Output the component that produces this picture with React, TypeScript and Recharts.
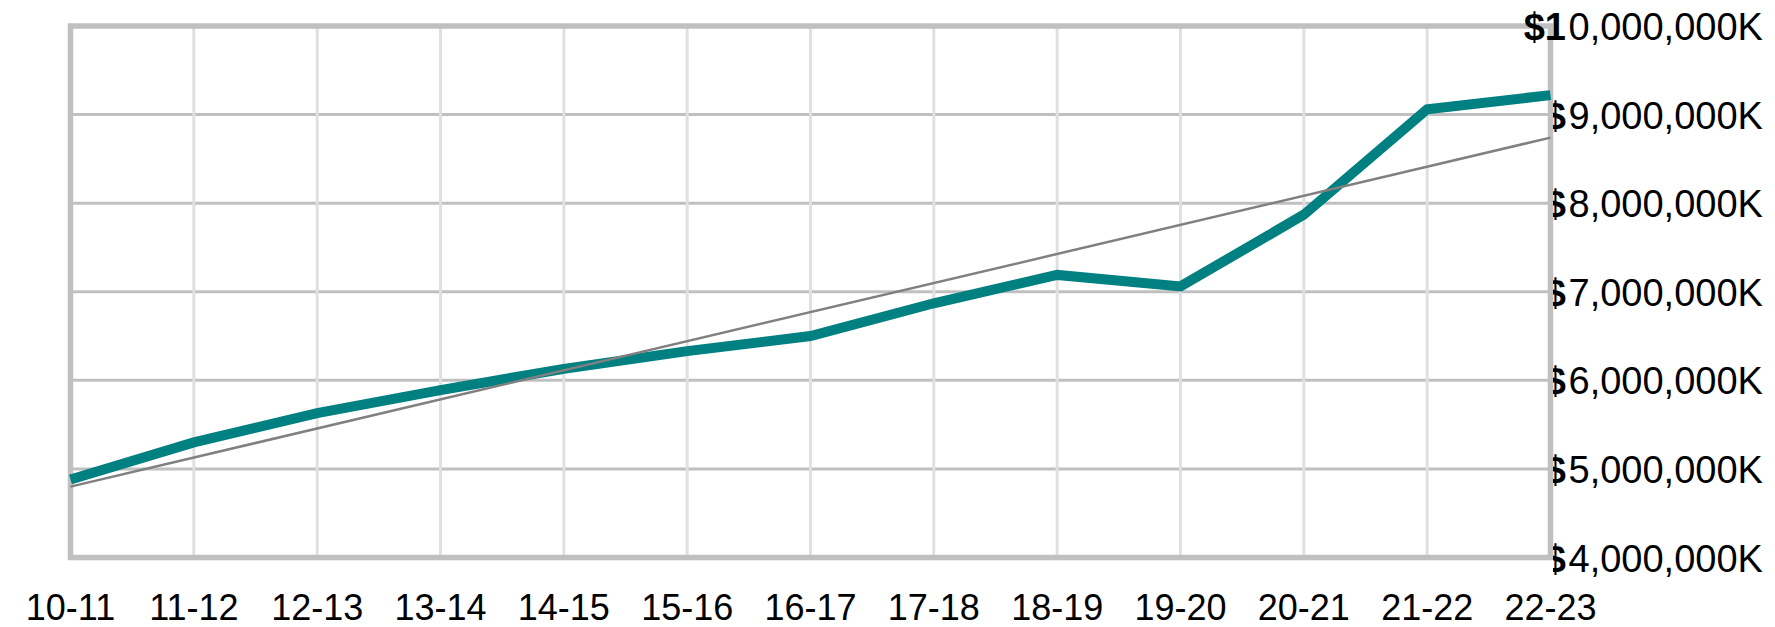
import React from "react";
import { LineChart, Line, XAxis, YAxis, CartesianGrid, ReferenceArea } from "recharts";

const YEARS = ["10-11", "11-12", "12-13", "13-14", "14-15", "15-16", "16-17", "17-18", "18-19", "19-20", "20-21", "21-22", "22-23"];
// values in thousands of dollars
const TOTALS = [4880000, 5300000, 5630000, 5890000, 6130000, 6330000, 6500000, 6870000, 7190000, 7060000, 7870000, 9060000, 9220000];
const TREND: (number | null)[] = [4800000, null, null, null, null, null, null, null, null, null, null, null, 8740000];
const Y_TICKS = [4000000, 5000000, 6000000, 7000000, 8000000, 9000000, 10000000];

const data = YEARS.map((year, i) => ({ year, total: TOTALS[i], trend: TREND[i] }));

const FONT = '"Liberation Sans", Arial, sans-serif';

const XTick = (props: any) => {
  const { x, y, payload } = props;
  return (
    <text x={x} y={y + 62} textAnchor="middle" fontFamily={FONT} fontSize={36} fill="#000">
      {payload.value}
    </text>
  );
};

const YTick = (props: any) => {
  const { x, y, payload, index } = props;
  const label = Number(payload.value).toLocaleString("en-US") + "K";
  const top = payload.value === 10000000;
  // the "$" (and the "1" of the top label) is drawn bold, the rest normal
  const lead = top ? "$" + label[0] : "$";
  const rest = top ? label.slice(1) : label;
  const clipId = `ytick-clip-${index}`;
  return (
    <g>
      <defs>
        <clipPath id={clipId}>
          <rect x={x + 2.5} y={y - 40} width={40} height={80} />
        </clipPath>
      </defs>
      <text
        x={x + 15.5}
        y={y + 14}
        textAnchor="end"
        fontFamily={FONT}
        fontSize={38}
        fontWeight="bold"
        fill="#000"
        clipPath={top ? undefined : `url(#${clipId})`}
      >
        {lead}
      </text>
      <text x={x + 18} y={y + 14} textAnchor="start" fontFamily={FONT} fontSize={38} fill="#000">
        {rest}
      </text>
    </g>
  );
};

export default function App() {
  return (
    <div style={{ position: "absolute", left: 0, top: 0, background: "#fff" }}>
      <LineChart width={1775} height={627} data={data} margin={{ top: 26, right: 0, bottom: 0, left: 70.5 }}>
        <CartesianGrid vertical={false} stroke="#c0c0c0" strokeWidth={3} />
        <CartesianGrid horizontal={false} stroke="#e0e0e0" strokeWidth={3} />
        <ReferenceArea
          x1="10-11"
          x2="22-23"
          y1={4000000}
          y2={10000000}
          fill="none"
          fillOpacity={0}
          stroke="#c0c0c0"
          strokeWidth={5.5}
          ifOverflow="visible"
        />
        <XAxis
          dataKey="year"
          axisLine={false}
          tickLine={false}
          tickSize={0}
          tickMargin={0}
          height={69.5}
          interval={0}
          tick={(p: any) => <XTick {...p} />}
        />
        <YAxis
          orientation="right"
          width={224.5}
          domain={[4000000, 10000000]}
          ticks={Y_TICKS}
          interval={0}
          axisLine={false}
          tickLine={false}
          tickSize={0}
          tickMargin={0}
          tick={(p: any) => <YTick {...p} />}
        />
        <Line
          type="linear"
          dataKey="total"
          stroke="#008080"
          strokeWidth={10}
          dot={false}
          activeDot={false}
          isAnimationActive={false}
        />
        <Line
          type="linear"
          dataKey="trend"
          stroke="#808080"
          strokeWidth={2.5}
          connectNulls
          dot={false}
          activeDot={false}
          isAnimationActive={false}
        />
      </LineChart>
    </div>
  );
}
